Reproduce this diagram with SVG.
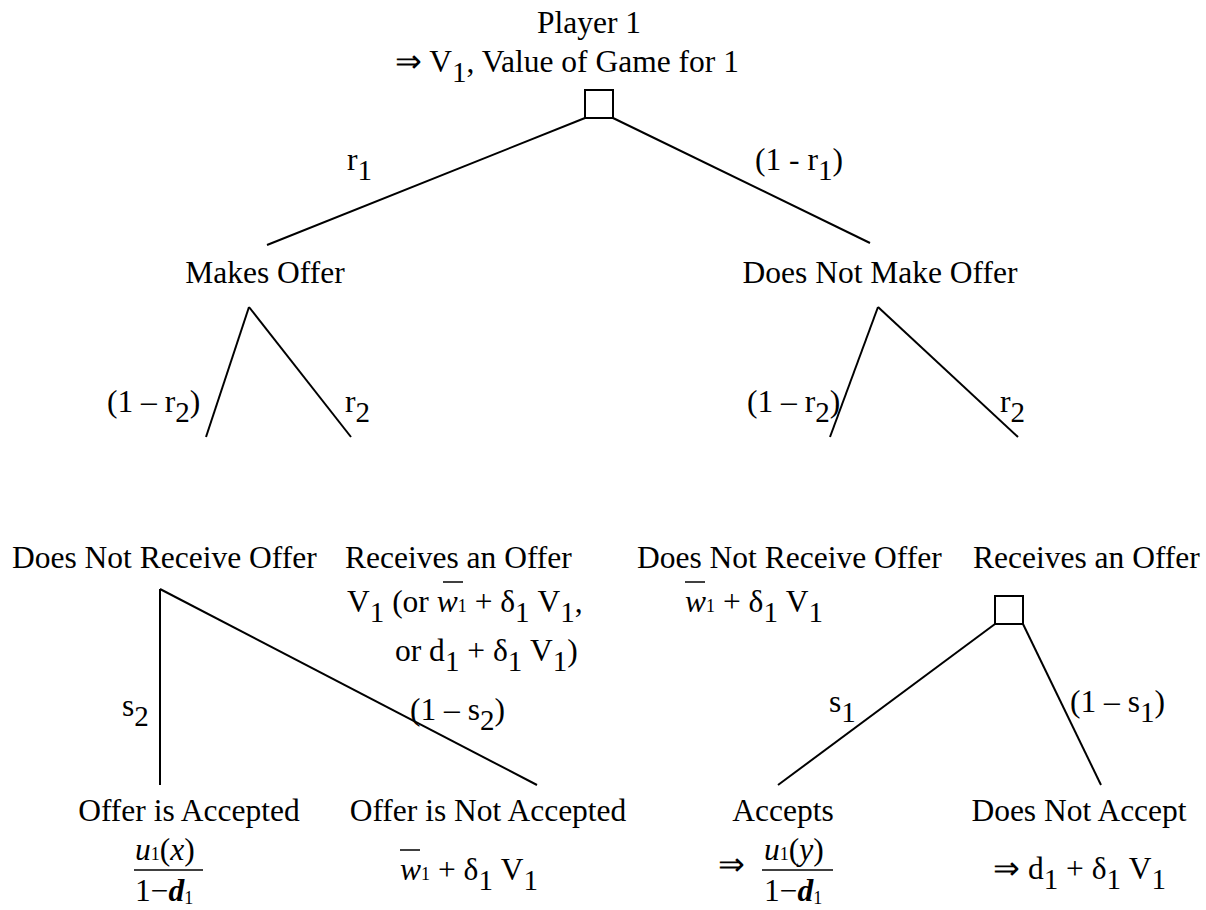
<svg xmlns="http://www.w3.org/2000/svg" width="1206" height="910" viewBox="0 0 1206 910">
<style>
text{font-family:"Liberation Serif","Times New Roman",serif;font-size:31.5px;fill:#000}
.m{text-anchor:middle}
.sub{font-size:29px}
.it{font-style:italic}
.sm{font-size:18px}
.bi{font-style:italic;font-weight:bold}
.ln{stroke:#000;stroke-width:2;fill:none}
.box{stroke:#000;stroke-width:2;fill:#fff}
.bar{stroke:#000;stroke-width:1.5}
</style>
<rect width="1206" height="910" fill="#fff"/>
<g id="connectors">
<line class="ln" x1="585" y1="118" x2="267" y2="245"/>
<line class="ln" x1="613" y1="118" x2="870" y2="243"/>
<line class="ln" x1="249" y1="307" x2="206" y2="437"/>
<line class="ln" x1="249" y1="307" x2="351" y2="437"/>
<line class="ln" x1="878" y1="307" x2="830" y2="437"/>
<line class="ln" x1="878" y1="307" x2="1018" y2="437"/>
<line class="ln" x1="160" y1="589" x2="160" y2="785"/>
<line class="ln" x1="160" y1="589" x2="537" y2="785"/>
<line class="ln" x1="995" y1="624" x2="778" y2="785"/>
<line class="ln" x1="1023" y1="624" x2="1101" y2="785"/>
</g>
<g id="edge-labels">
<text x="347" y="170">r<tspan class="sub" dy="10">1</tspan></text>
<text x="755" y="170">(1 - r<tspan class="sub" dy="10">1</tspan><tspan dy="-10">)</tspan></text>
<text x="107" y="412">(1 – r<tspan class="sub" dy="10">2</tspan><tspan dy="-10">)</tspan></text>
<text x="345" y="412">r<tspan class="sub" dy="10">2</tspan></text>
<text x="747" y="412">(1 – r<tspan class="sub" dy="10">2</tspan><tspan dy="-10">)</tspan></text>
<text x="1000" y="412">r<tspan class="sub" dy="10">2</tspan></text>
<text x="122" y="716">s<tspan class="sub" dy="10">2</tspan></text>
<text x="410" y="720">(1 – s<tspan class="sub" dy="10">2</tspan><tspan dy="-10">)</tspan></text>
<text x="829" y="712">s<tspan class="sub" dy="10">1</tspan></text>
<text x="1070" y="712">(1 – s<tspan class="sub" dy="10">1</tspan><tspan dy="-10">)</tspan></text>
</g>
<g id="root">
<text class="m" x="589" y="33">Player 1</text>
<text x="395" y="72">⇒ V<tspan class="sub" dy="10">1</tspan><tspan dy="-10">, Value of Game for 1</tspan></text>
<rect class="box" x="585" y="90" width="28" height="28"/>
</g>
<g id="makes-offer">
<text class="m" x="265" y="283">Makes Offer</text>
</g>
<g id="does-not-make-offer">
<text class="m" x="880" y="283">Does Not Make Offer</text>
</g>
<g id="left-does-not-receive">
<text x="12" y="568">Does Not Receive Offer</text>
</g>
<g id="left-receives">
<text x="345" y="568">Receives an Offer</text>
<text x="347" y="612">V<tspan class="sub" dy="10">1</tspan><tspan dy="-10"> (or  </tspan><tspan class="it">w</tspan><tspan class="sm">1</tspan><tspan> + δ</tspan><tspan class="sub" dy="10">1</tspan><tspan dy="-10"> V</tspan><tspan class="sub" dy="10">1</tspan><tspan dy="-10">,</tspan></text>
<line class="bar" x1="443" y1="582" x2="463" y2="582"/>
<text x="395" y="661">or d<tspan class="sub" dy="10">1</tspan><tspan dy="-10"> + δ</tspan><tspan class="sub" dy="10">1</tspan><tspan dy="-10"> V</tspan><tspan class="sub" dy="10">1</tspan><tspan dy="-10">)</tspan></text>
</g>
<g id="right-does-not-receive">
<text x="637" y="568">Does Not Receive Offer</text>
<text x="685" y="612"><tspan class="it">w</tspan><tspan class="sm">1</tspan><tspan> + δ</tspan><tspan class="sub" dy="10">1</tspan><tspan dy="-10"> V</tspan><tspan class="sub" dy="10">1</tspan></text>
<line class="bar" x1="685" y1="582" x2="705" y2="582"/>
</g>
<g id="right-receives">
<text x="973" y="568">Receives an Offer</text>
<rect class="box" x="995" y="596" width="28" height="28"/>
</g>
<g id="offer-accepted">
<text class="m" x="189" y="821">Offer is Accepted</text>
<text x="135" y="860"><tspan class="it">u</tspan><tspan class="sm">1</tspan>(<tspan class="it">x</tspan>)</text>
<line class="bar" x1="134" y1="870" x2="203" y2="870"/>
<text x="135" y="901">1−<tspan class="bi">d</tspan><tspan class="sm" dy="3">1</tspan></text>
</g>
<g id="offer-not-accepted">
<text class="m" x="488" y="821">Offer is Not Accepted</text>
<text x="400" y="880"><tspan class="it">w</tspan><tspan class="sm">1</tspan><tspan> + δ</tspan><tspan class="sub" dy="10">1</tspan><tspan dy="-10"> V</tspan><tspan class="sub" dy="10">1</tspan></text>
<line class="bar" x1="400" y1="850" x2="420" y2="850"/>
</g>
<g id="accepts">
<text class="m" x="783" y="821">Accepts</text>
<text x="718" y="875">⇒</text>
<text x="764" y="860"><tspan class="it">u</tspan><tspan class="sm">1</tspan>(<tspan class="it">y</tspan>)</text>
<line class="bar" x1="762" y1="870" x2="833" y2="870"/>
<text x="764" y="901">1−<tspan class="bi">d</tspan><tspan class="sm" dy="3">1</tspan></text>
</g>
<g id="does-not-accept">
<text class="m" x="1079" y="821">Does Not Accept</text>
<text x="993" y="879">⇒ d<tspan class="sub" dy="10">1</tspan><tspan dy="-10"> + δ</tspan><tspan class="sub" dy="10">1</tspan><tspan dy="-10"> V</tspan><tspan class="sub" dy="10">1</tspan></text>
</g>
</svg>
